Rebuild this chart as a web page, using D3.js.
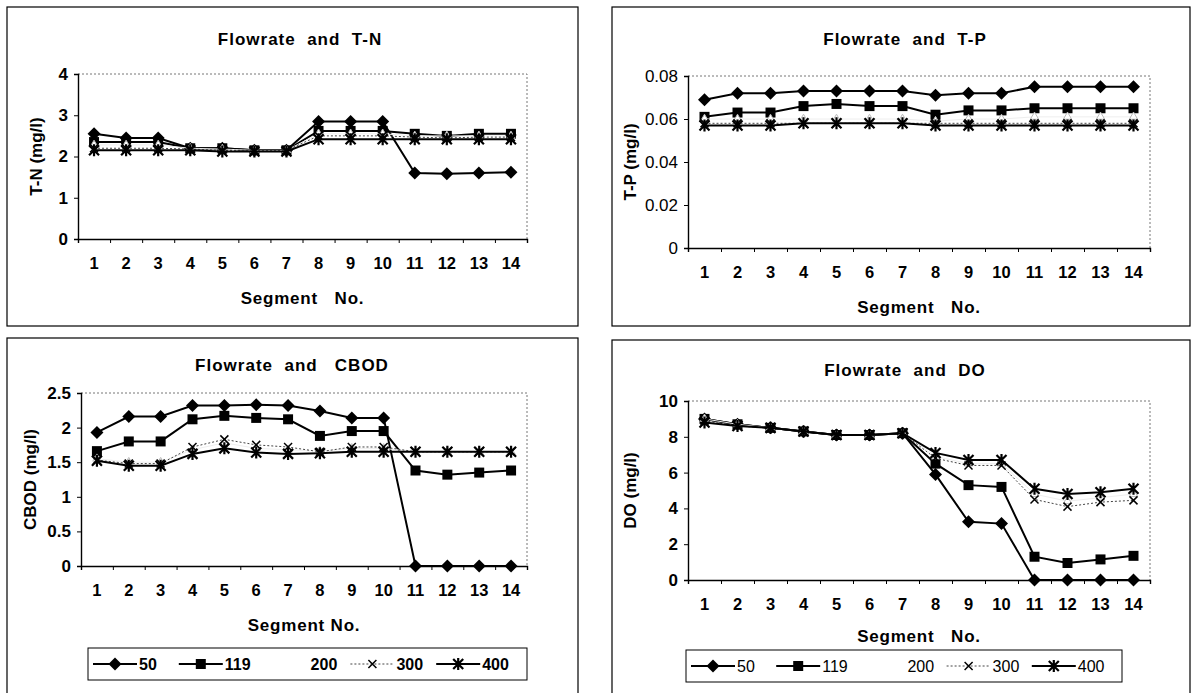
<!DOCTYPE html>
<html>
<head>
<meta charset="utf-8">
<script src="https://cdn.jsdelivr.net/npm/d3@7"></script>
<style>
  body { margin: 0; background: #fff; }
  text { font-family: "Liberation Sans", Arial, sans-serif; font-weight: bold; fill: #000; white-space: pre; }
</style>
</head>
<body>
<svg id="chart" width="1199" height="693"></svg>
<script>
// segment numbers along the river
const segments = [1, 2, 3, 4, 5, 6, 7, 8, 9, 10, 11, 12, 13, 14];
const flowrates = ["50", "119", "200", "300", "400"];

// T-N (mg/l)
const tn50  = [2.55, 2.45, 2.45, 2.2, 2.2, 2.15, 2.15, 2.85, 2.85, 2.85, 1.6, 1.58, 1.6, 1.62];
const tn119 = [2.35, 2.35, 2.35, 2.2, 2.2, 2.15, 2.15, 2.62, 2.62, 2.62, 2.55, 2.5, 2.55, 2.55];
const tn200 = [2.28, 2.28, 2.28, 2.2, 2.18, 2.15, 2.15, 2.55, 2.55, 2.55, 2.5, 2.5, 2.5, 2.5];
const tn300 = [2.2, 2.2, 2.2, 2.18, 2.15, 2.15, 2.15, 2.5, 2.5, 2.5, 2.47, 2.45, 2.47, 2.47];
const tn400 = [2.15, 2.15, 2.15, 2.15, 2.12, 2.12, 2.12, 2.42, 2.42, 2.42, 2.42, 2.42, 2.42, 2.42];

// T-P (mg/l)
const tp50  = [0.069, 0.072, 0.072, 0.073, 0.073, 0.073, 0.073, 0.071, 0.072, 0.072, 0.075, 0.075, 0.075, 0.075];
const tp119 = [0.061, 0.063, 0.063, 0.066, 0.067, 0.066, 0.066, 0.062, 0.064, 0.064, 0.065, 0.065, 0.065, 0.065];
const tp200 = [0.060, 0.060, 0.060, 0.060, 0.060, 0.060, 0.060, 0.059, 0.060, 0.060, 0.061, 0.061, 0.061, 0.061];
const tp300 = [0.058, 0.058, 0.058, 0.058, 0.058, 0.058, 0.058, 0.058, 0.058, 0.058, 0.058, 0.058, 0.058, 0.058];
const tp400 = [0.057, 0.057, 0.057, 0.058, 0.058, 0.058, 0.058, 0.057, 0.057, 0.057, 0.057, 0.057, 0.057, 0.057];

// CBOD (mg/l)
const cb50  = [1.93, 2.16, 2.16, 2.32, 2.32, 2.33, 2.32, 2.24, 2.14, 2.14, 0, 0, 0, 0];
const cb119 = [1.66, 1.8, 1.8, 2.12, 2.17, 2.14, 2.12, 1.88, 1.95, 1.95, 1.38, 1.32, 1.35, 1.38];
const cb200 = [1.55, 1.5, 1.5, 1.68, 1.78, 1.7, 1.68, 1.66, 1.7, 1.7, 1.65, 1.65, 1.65, 1.65];
const cb300 = [1.53, 1.48, 1.48, 1.72, 1.83, 1.75, 1.72, 1.65, 1.72, 1.72, 1.65, 1.65, 1.65, 1.65];
const cb400 = [1.52, 1.45, 1.45, 1.62, 1.7, 1.64, 1.62, 1.63, 1.65, 1.65, 1.65, 1.65, 1.65, 1.65];

// DO (mg/l)
const do50  = [9.0, 8.7, 8.5, 8.3, 8.1, 8.1, 8.2, 5.9, 3.25, 3.15, 0, 0, 0, 0];
const do119 = [9.0, 8.7, 8.5, 8.3, 8.1, 8.1, 8.2, 6.5, 5.3, 5.2, 1.3, 0.95, 1.15, 1.35];
const do200 = [9.0, 8.7, 8.5, 8.3, 8.1, 8.1, 8.2, 6.9, 6.5, 6.5, 4.8, 4.4, 4.6, 4.8];
const do300 = [8.9, 8.6, 8.5, 8.3, 8.1, 8.1, 8.2, 6.8, 6.4, 6.4, 4.5, 4.1, 4.35, 4.45];
const do400 = [8.8, 8.6, 8.5, 8.3, 8.1, 8.1, 8.2, 7.1, 6.7, 6.7, 5.1, 4.8, 4.9, 5.1];

const tnTicks = [0, 1, 2, 3, 4];
const tpTicks = [0, 0.02, 0.04, 0.06, 0.08];
const cbTicks = [0, 0.5, 1, 1.5, 2, 2.5];
const doTicks = [0, 2, 4, 6, 8, 10];

const svg = d3.select("#chart");

// marker shapes per series
const diamond = "M0,-6.5L6.5,0L0,6.5L-6.5,0Z";
const square = "M-5,-5H5V5H-5Z";
const triangle = d3.symbol().type(d3.symbolTriangle).size(30)();
const xMark = "M-4,-4L4,4M-4,4L4,-4";
const star = "M-5,-5L5,5M-5,5L5,-5M0,-6L0,6";

const styles = [
  {line: "#000", width: 2, dash: null, marker: diamond, fill: "#000", stroke: "none", sw: 0},
  {line: "#000", width: 2, dash: null, marker: square, fill: "#000", stroke: "none", sw: 0},
  {line: "#eee", width: 1, dash: null, marker: triangle, fill: "#fff", stroke: "#bbb", sw: 1},
  {line: "#444", width: 1, dash: "2,2", marker: xMark, fill: "none", stroke: "#000", sw: 1.5},
  {line: "#000", width: 2, dash: null, marker: star, fill: "none", stroke: "#000", sw: 2.2}
];

const panels = [
  {box: [7, 7, 578, 326], title: "Flowrate  and  T-N", tx: 300, ty: 45,
   plot: [78, 74, 527, 239], ticks: tnTicks, fmt: d3.format("d"), ylab: "T-N (mg/l)", lx: 42,
   xlab: "Segment   No.", xly: 304, series: [tn50, tn119, tn200, tn300, tn400]},
  {box: [612, 7, 1190, 326], title: "Flowrate  and  T-P", tx: 905, ty: 45,
   plot: [688, 76, 1150, 248], ticks: tpTicks, fmt: d => d === 0 ? "0" : d3.format(".2f")(d), ylab: "T-P (mg/l)", lx: 636,
   xlab: "Segment   No.", xly: 313, series: [tp50, tp119, tp200, tp300, tp400], light: true},
  {box: [7, 338, 578, 705], title: "Flowrate  and   CBOD", tx: 292, ty: 371,
   plot: [81, 393, 527, 566], ticks: cbTicks, fmt: d => String(d), ylab: "CBOD (mg/l)", lx: 36,
   xlab: "Segment No.", xly: 631, series: [cb50, cb119, cb200, cb300, cb400],
   legend: [88, 648, 527, 680], legendBold: true},
  {box: [612, 340, 1190, 705], title: "Flowrate  and  DO", tx: 905, ty: 376,
   plot: [688, 401, 1150, 580], ticks: doTicks, fmt: d3.format("d"), ylab: "DO (mg/l)", lx: 636,
   xlab: "Segment   No.", xly: 642, series: [do50, do119, do200, do300, do400],
   legend: [686, 650, 1122, 682], legendBold: false}
];

panels.forEach(p => {
  const g = svg.append("g");
  const [bx0, by0, bx1, by1] = p.box;
  g.append("rect").attr("x", bx0).attr("y", by0).attr("width", bx1 - bx0).attr("height", by1 - by0)
    .attr("fill", "none").attr("stroke", "#000").attr("stroke-width", 1.2);

  g.append("text").attr("x", p.tx).attr("y", p.ty).attr("text-anchor", "middle")
    .style("font-size", "17px").style("letter-spacing", "1px").text(p.title);

  const [px0, py0, px1, py1] = p.plot;
  const x = d3.scaleBand().domain(segments).range([px0, px1]);
  const xe = d3.scaleLinear().domain([0, segments.length]).range([px0, px1]);
  const y = d3.scaleLinear().domain([0, d3.max(p.ticks)]).range([py1, py0]);

  // dotted plot-area border (top and right)
  g.append("path").attr("d", `M${px0},${py0}H${px1}V${py1}`)
    .attr("fill", "none").attr("stroke", "#777").attr("stroke-dasharray", "2,2").attr("stroke-width", 1);

  // y axis
  const ya = g.append("g").attr("transform", `translate(${px0},0)`)
    .call(d3.axisLeft(y).tickValues(p.ticks).tickFormat(p.fmt).tickSize(4).tickPadding(6));
  ya.select(".domain").attr("stroke-width", 1.4);
  ya.selectAll("text").style("font-size", "17px")
    .style("font-weight", p.light ? "normal" : "bold");

  // x axis: ticks between categories, labels centred on categories
  const xa = g.append("g").attr("transform", `translate(0,${py1})`)
    .call(d3.axisBottom(xe).tickValues(d3.range(0, segments.length + 1)).tickFormat("").tickSize(4));
  xa.select(".domain").attr("stroke-width", 1.4);
  const xl = g.append("g").attr("transform", `translate(0,${py1})`)
    .call(d3.axisBottom(x).tickSize(0).tickPadding(18));
  xl.select(".domain").remove();
  xl.selectAll("text").style("font-size", "16.5px");

  // series
  p.series.forEach((vals, i) => {
    const st = styles[i];
    const pts = segments.map((s, k) => [x(s) + x.bandwidth() / 2, y(vals[k])]);
    g.append("path").attr("d", d3.line()(pts)).attr("fill", "none")
      .attr("stroke", st.line).attr("stroke-width", st.width)
      .attr("stroke-dasharray", st.dash);
    g.selectAll(null).data(pts).enter().append("path")
      .attr("transform", d => `translate(${d[0]},${d[1]})`)
      .attr("d", st.marker).attr("fill", st.fill)
      .attr("stroke", st.stroke).attr("stroke-width", st.sw);
  });

  // axis titles
  g.append("text").attr("transform", `translate(${p.lx},${(py0 + py1) / 2}) rotate(-90)`)
    .attr("text-anchor", "middle").style("font-size", "17px").text(p.ylab);
  g.append("text").attr("x", (px0 + px1) / 2).attr("y", p.xly).attr("text-anchor", "middle")
    .style("font-size", "17px").style("letter-spacing", "0.8px").text(p.xlab);

  // legend
  if (p.legend) {
    const [lx0, ly0, lx1, ly1] = p.legend;
    g.append("rect").attr("x", lx0).attr("y", ly0).attr("width", lx1 - lx0).attr("height", ly1 - ly0)
      .attr("fill", "#fff").attr("stroke", "#000").attr("stroke-width", 1);
    const step = (lx1 - lx0 - 10) / flowrates.length;
    const cy = (ly0 + ly1) / 2;
    flowrates.forEach((f, i) => {
      const st = styles[i];
      const sx = lx0 + 5 + i * step;
      if (i !== 2) {
        g.append("line").attr("x1", sx).attr("x2", sx + 44).attr("y1", cy).attr("y2", cy)
          .attr("stroke", st.line).attr("stroke-width", st.width).attr("stroke-dasharray", st.dash);
        g.append("path").attr("transform", `translate(${sx + 22},${cy})`).attr("d", st.marker)
          .attr("fill", st.fill).attr("stroke", st.stroke).attr("stroke-width", st.sw);
      }
      g.append("text").attr("x", sx + 46).attr("y", cy + 6)
        .style("font-size", "16px").style("font-weight", p.legendBold ? "bold" : "normal").text(f);
    });
  }
});
</script>
</body>
</html>
